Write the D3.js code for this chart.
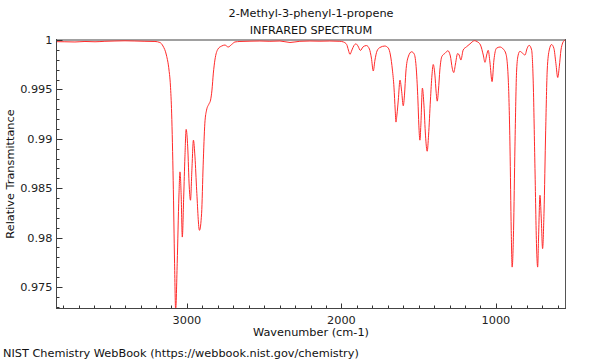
<!DOCTYPE html>
<html><head><meta charset="utf-8">
<script src="https://cdn.jsdelivr.net/npm/d3@7"></script>
<style>body{margin:0;background:#fff;} text{font-family:"DejaVu Sans",sans-serif;}</style>
</head><body><svg id="c" width="600" height="360"></svg>
<script>
const title = "2-Methyl-3-phenyl-1-propene";
const subtitle = "INFRARED SPECTRUM";
const xLabel = "Wavenumber (cm-1)";
const yLabel = "Relative Transmittance";
const footer = "NIST Chemistry WebBook (https://webbook.nist.gov/chemistry)";
const xTicks = [3000, 2000, 1000];
const yTicks = [0.975, 0.98, 0.985, 0.99, 0.995, 1];
const yTickLabels = ["0.975", "0.98", "0.985", "0.99", "0.995", "1"];
const xDomain = [3841, 553];
const yDomain = [0.97287, 1];
const wavenumber = [3841,3790,3725,3660,3595,3531,3466,3401,3337,3272,3207,3175,3155,3133,3116,3107,3099,3089,3080,3073,3063,3052,3045,3037,3030,3021,3013,3005,2995,2985,2977,2968,2958,2948,2937,2919,2905,2895,2884,2873,2858,2847,2838,2829,2819,2799,2775,2754,2733,2711,2689,2657,2592,2528,2463,2398,2333,2269,2204,2139,2075,2010,1987,1966,1955,1945,1932,1919,1906,1893,1877,1861,1838,1819,1806,1794,1783,1770,1751,1719,1697,1683,1670,1660,1652,1647,1641,1632,1621,1610,1600,1592,1583,1568,1546,1529,1515,1505,1499,1492,1486,1476,1466,1456,1445,1436,1424,1414,1406,1395,1387,1380,1372,1363,1350,1330,1311,1295,1283,1273,1262,1248,1238,1227,1212,1190,1168,1139,1121,1100,1082,1071,1060,1050,1039,1025,1013,997,974,953,935,920,909,901,895,886,877,866,856,845,827,812,798,785,769,759,748,737,730,724,715,707,698,689,678,668,655,640,625,612,600,590,579,568,558,553];
const transmittance = [0.99983,0.99982,0.99980,0.99985,0.99982,0.99987,0.99990,0.99992,0.99990,0.99987,0.99985,0.99975,0.99939,0.99848,0.99696,0.99544,0.99260,0.98580,0.97739,0.97262,0.97739,0.98411,0.98665,0.98411,0.98005,0.98411,0.98817,0.99095,0.98918,0.98512,0.98378,0.98682,0.98986,0.98817,0.98479,0.98073,0.98246,0.98733,0.99158,0.99290,0.99351,0.99392,0.99493,0.99665,0.99797,0.99909,0.99939,0.99949,0.99929,0.99954,0.99980,0.99985,0.99988,0.99990,0.99987,0.99990,0.99975,0.99987,0.99990,0.99988,0.99990,0.99987,0.99980,0.99954,0.99899,0.99855,0.99899,0.99944,0.99961,0.99939,0.99894,0.99929,0.99944,0.99909,0.99817,0.99686,0.99797,0.99888,0.99924,0.99939,0.99919,0.99848,0.99696,0.99523,0.99290,0.99169,0.99240,0.99392,0.99594,0.99476,0.99334,0.99442,0.99676,0.99828,0.99881,0.99858,0.99696,0.99392,0.99138,0.98986,0.99138,0.99513,0.99341,0.99037,0.98874,0.99037,0.99392,0.99645,0.99752,0.99645,0.99473,0.99381,0.99493,0.99696,0.99833,0.99865,0.99891,0.99838,0.99716,0.99670,0.99757,0.99863,0.99848,0.99797,0.99899,0.99932,0.99961,0.99993,0.99983,0.99949,0.99848,0.99774,0.99848,0.99896,0.99777,0.99579,0.99797,0.99916,0.99929,0.99909,0.99858,0.99594,0.98918,0.98073,0.97701,0.98073,0.98918,0.99696,0.99848,0.99885,0.99865,0.99848,0.99916,0.99946,0.99899,0.99594,0.98753,0.97904,0.97701,0.98005,0.98428,0.98208,0.97888,0.98246,0.99087,0.99696,0.99899,0.99954,0.99916,0.99764,0.99620,0.99729,0.99899,0.99970,0.99995,1.0];

const svg = d3.select("#c");
const L = 57, R = 565, T = 40, B = 308;
const FS = 11.3;
const x = d3.scaleLinear().domain(xDomain).range([L, R]);
const y = d3.scaleLinear().domain(yDomain).range([B, T]);

svg.append("defs").append("clipPath").attr("id","clip")
  .append("rect").attr("x", L).attr("y", T - 1).attr("width", R - L).attr("height", B - T + 1);

// frame top and right
svg.append("line").attr("x1", L).attr("x2", R).attr("y1", T).attr("y2", T)
  .attr("stroke", "#a0a0a0").attr("stroke-width", 2);
svg.append("line").attr("x1", R + 0.5).attr("x2", R + 0.5).attr("y1", T - 1).attr("y2", B)
  .attr("stroke", "#555").attr("stroke-width", 1);

// data line
const data = wavenumber.map((w, i) => ({w, t: transmittance[i]}));
const line = d3.line().x(d => x(d.w)).y(d => y(d.t)).curve(d3.curveMonotoneX);
svg.append("path").datum(data).attr("d", line).attr("clip-path", "url(#clip)")
  .attr("fill", "none").attr("stroke", "#ff2a2a").attr("stroke-width", 1);

// x axis
const xMinor = d3.range(3800, 500, -100);
const xAxisG = svg.append("g").attr("transform", `translate(0,${B + 0.5})`);
xAxisG.selectAll("line.minor").data(xMinor).enter().append("line")
  .attr("x1", d => Math.round(x(d)) + 0.5).attr("x2", d => Math.round(x(d)) + 0.5)
  .attr("y1", 0).attr("y2", -3).attr("stroke", "#333");
xAxisG.selectAll("line.major").data(xTicks).enter().append("line")
  .attr("x1", d => Math.round(x(d)) + 0.5).attr("x2", d => Math.round(x(d)) + 0.5)
  .attr("y1", 0).attr("y2", -5).attr("stroke", "#333");
xAxisG.selectAll("text").data(xTicks).enter().append("text")
  .attr("x", d => x(d)).attr("y", 15).attr("text-anchor", "middle")
  .attr("font-size", FS).attr("fill", "#222").text(d => d);
xAxisG.append("line").attr("x1", L).attr("x2", R + 1).attr("y1", 0).attr("y2", 0)
  .attr("stroke", "#444").attr("stroke-width", 1);

// y axis
const yMinor = d3.range(0.973, 1.0001, 0.001);
const yAxisG = svg.append("g").attr("transform", `translate(${L - 0.5},0)`);
yAxisG.selectAll("line.minor").data(yMinor).enter().append("line")
  .attr("x1", 0).attr("x2", 3)
  .attr("y1", d => Math.round(y(d)) + 0.5).attr("y2", d => Math.round(y(d)) + 0.5).attr("stroke", "#333");
yAxisG.selectAll("line.major").data(yTicks).enter().append("line")
  .attr("x1", 0).attr("x2", 6)
  .attr("y1", d => Math.round(y(d)) + 0.5).attr("y2", d => Math.round(y(d)) + 0.5).attr("stroke", "#333");
yAxisG.selectAll("text").data(yTicks).enter().append("text")
  .attr("x", -4).attr("y", d => y(d) + 4).attr("text-anchor", "end")
  .attr("font-size", FS).attr("fill", "#222").text((d, i) => yTickLabels[i]);
yAxisG.append("line").attr("x1", 0).attr("x2", 0).attr("y1", T - 1).attr("y2", B + 1)
  .attr("stroke", "#444").attr("stroke-width", 1);

// texts
const cx = (L + R) / 2;
svg.append("text").attr("x", cx).attr("y", 17).attr("text-anchor", "middle")
  .attr("font-size", FS).attr("fill", "#111").text(title);
svg.append("text").attr("x", cx).attr("y", 34).attr("text-anchor", "middle")
  .attr("font-size", FS).attr("fill", "#111").text(subtitle);
svg.append("text").attr("x", cx).attr("y", 336).attr("text-anchor", "middle")
  .attr("font-size", FS).attr("fill", "#111").text(xLabel);
svg.append("text").attr("transform", `translate(14,${(T + B) / 2}) rotate(-90)`)
  .attr("text-anchor", "middle").attr("font-size", FS).attr("fill", "#111").text(yLabel);
svg.append("text").attr("x", 3).attr("y", 357).attr("font-size", FS)
  .attr("fill", "#111").text(footer);
</script></body></html>
